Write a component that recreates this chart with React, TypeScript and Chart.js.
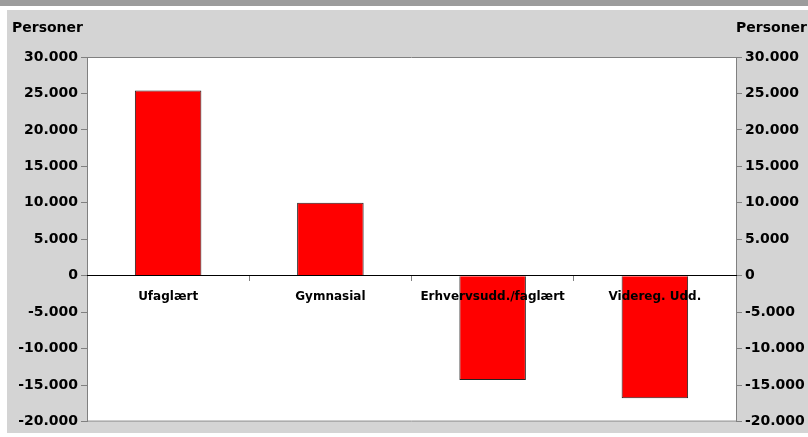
import React, { useEffect, useRef } from "react";
import { Chart, registerables } from "chart.js";

Chart.register(...registerables);

const categories = ["Ufaglært", "Gymnasial", "Erhvervsudd./faglært", "Videreg. Udd."];
const values = [25400, 10000, -14300, -16800];
const yTickValues = [30000, 25000, 20000, 15000, 10000, 5000, 0, -5000, -10000, -15000, -20000];
const yTickLabels = ["30.000", "25.000", "20.000", "15.000", "10.000", "5.000", "0", "-5.000", "-10.000", "-15.000", "-20.000"];
const axisTitle = "Personer";

const FONT = "'DejaVu Sans', Arial, sans-serif";

function tickLabel(v: number): string {
  const i = yTickValues.indexOf(v);
  return i >= 0 ? yTickLabels[i] : "";
}

export default function App() {
  const ref = useRef<HTMLCanvasElement | null>(null);

  useEffect(() => {
    document.body.style.margin = "0";
    const canvas = ref.current;
    if (!canvas) return;

    const framePlugin = {
      id: "frame",
      beforeDraw(chart: any) {
        const { ctx, chartArea: a } = chart;
        ctx.save();
        ctx.fillStyle = "#ffffff";
        ctx.fillRect(a.left, a.top, a.right - a.left, a.bottom - a.top);
        ctx.restore();
      },
      afterDraw(chart: any) {
        const { ctx, chartArea: a } = chart;
        ctx.save();
        ctx.strokeStyle = "#808080";
        ctx.lineWidth = 1;
        ctx.beginPath();
        ctx.moveTo(a.left, a.top + 0.5);
        ctx.lineTo(a.right, a.top + 0.5);
        ctx.moveTo(a.left, a.bottom - 0.5);
        ctx.lineTo(a.right, a.bottom - 0.5);
        ctx.stroke();
        ctx.fillStyle = "#000000";
        ctx.font = `bold 14px ${FONT}`;
        ctx.textBaseline = "middle";
        ctx.textAlign = "left";
        ctx.fillText(axisTitle, 5, 18);
        ctx.textAlign = "right";
        ctx.fillText(axisTitle, chart.width - 1, 18);
        ctx.restore();
      },
    };

    const chart = new Chart(canvas, {
      type: "bar",
      data: {
        labels: categories,
        datasets: [
          {
            data: values,
            backgroundColor: "#ff0000",
            borderColor: "#222222",
            borderWidth: 1,
            barPercentage: 0.41,
            categoryPercentage: 1,
          },
        ],
      },
      options: {
        responsive: false,
        animation: false,
        devicePixelRatio: 1,
        layout: { padding: { top: 47, bottom: 9, left: 0, right: 0 } },
        plugins: { legend: { display: false }, tooltip: { enabled: false }, title: { display: false } },
        scales: {
          x: {
            position: { y: 0 } as any,
            offset: true,
            grid: {
              display: true,
              offset: true,
              drawOnChartArea: false,
              drawTicks: true,
              tickLength: 5,
              color: "#808080",
            },
            border: { display: true, color: "#000000", width: 1, z: 1 },
            ticks: {
              z: 1,
              color: "#000000",
              font: { family: FONT, size: 12, weight: "bold" },
              padding: 9,
              maxRotation: 0,
              autoSkip: false,
            },
          },
          y: {
            position: "left",
            min: -20000,
            max: 30000,
            afterFit(scale: any) {
              scale.width = 80;
            },
            grid: { drawOnChartArea: false, tickLength: 6, color: "#808080" },
            border: { display: true, color: "#808080" },
            ticks: {
              stepSize: 5000,
              color: "#000000",
              font: { family: FONT, size: 14, weight: "bold" },
              padding: 3,
              callback: (v: any) => tickLabel(Number(v)),
            },
          },
          y2: {
            position: "right",
            min: -20000,
            max: 30000,
            afterFit(scale: any) {
              scale.width = 72;
            },
            grid: { drawOnChartArea: false, tickLength: 6, color: "#808080" },
            border: { display: true, color: "#808080" },
            ticks: {
              stepSize: 5000,
              color: "#000000",
              font: { family: FONT, size: 14, weight: "bold" },
              padding: 3,
              callback: (v: any) => tickLabel(Number(v)),
            },
          },
        },
      } as any,
      plugins: [framePlugin],
    });

    return () => chart.destroy();
  }, []);

  return (
    <div style={{ position: "relative", width: 808, height: 437, background: "#ffffff", overflow: "hidden" }}>
      <div style={{ position: "absolute", left: 0, top: 0, width: 808, height: 6, background: "#9c9c9c" }} />
      <div style={{ position: "absolute", left: 7, top: 10, width: 801, height: 423, background: "#d4d4d4" }}>
        <canvas ref={ref} width={801} height={423} style={{ display: "block", width: 801, height: 423 }} />
      </div>
    </div>
  );
}
